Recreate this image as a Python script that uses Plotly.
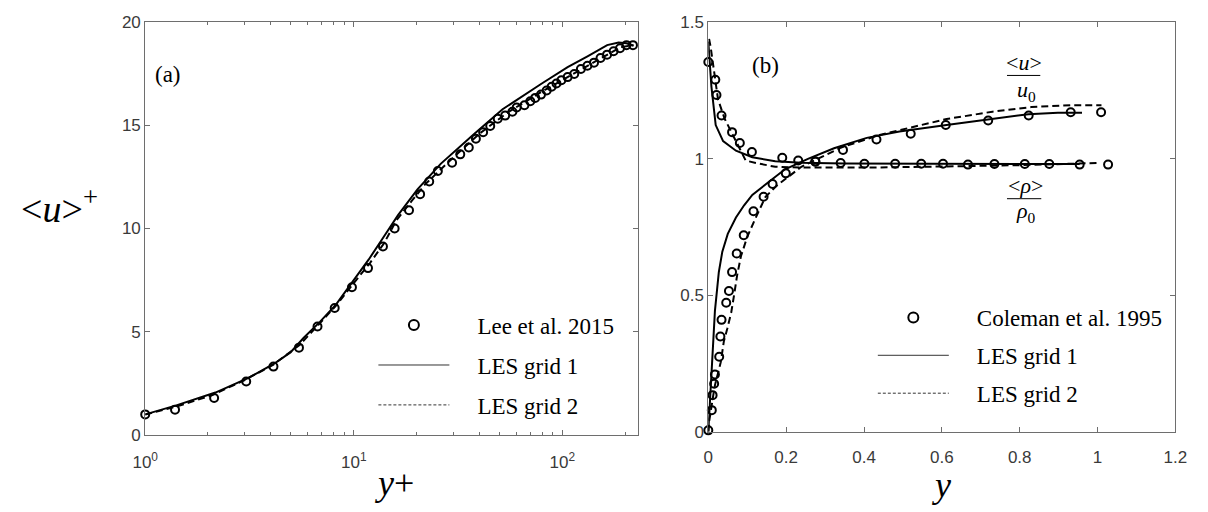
import plotly.graph_objects as go

# ---------------- data: panel (a) ----------------
yp_lee = [1.0, 1.39, 2.14, 3.05, 4.12, 5.46, 6.7, 8.1, 9.8, 11.7, 13.8, 15.7, 18.4, 20.8, 23.0,
          25.3, 29.6, 32.4, 35.6, 38.5, 41.7, 45.1, 49.0, 53.2, 57.6, 60.4, 65.8, 70.2, 74.1,
          79.0, 84.1, 88.8, 93.7, 98.9, 106, 114, 122.7, 131.9, 141.8, 152.4, 163.8, 176, 189,
          203, 218, 231]
u_lee = [0.98, 1.21, 1.78, 2.58, 3.30, 4.22, 5.25, 6.14, 7.15, 8.08, 9.13, 10.0, 10.89, 11.67,
         12.28, 12.79, 13.19, 13.6, 13.93, 14.36, 14.67, 14.98, 15.33, 15.48, 15.67, 15.87,
         15.98, 16.18, 16.34, 16.5, 16.7, 16.88, 17.04, 17.2, 17.35, 17.5, 17.74, 17.9, 18.05,
         18.28, 18.44, 18.6, 18.75, 18.9, 18.9, 18.83]

yp_g1 = [1.0, 1.41, 2.17, 3.11, 4.15, 4.97, 5.74, 6.88, 8.23, 9.85, 11.8, 13.9, 16.3, 20.2,
         26.1, 37.4, 51.7, 79.7, 106, 132, 164, 186, 203, 218]
u_g1 = [0.98, 1.42, 2.04, 2.74, 3.44, 3.99, 4.69, 5.47, 6.32, 7.42, 8.5, 9.59, 10.65, 11.9,
        13.14, 14.55, 15.79, 17.04, 17.83, 18.36, 18.9, 19.03, 18.99, 18.88]

yp_g2 = [1.0, 1.4, 2.1, 3.0, 4.1, 5.5, 6.8, 8.2, 10, 12, 14, 16, 19, 22, 26, 30, 40, 55, 80,
         110, 150, 190, 220]
u_g2 = [0.97, 1.35, 1.92, 2.65, 3.38, 4.35, 5.35, 6.25, 7.35, 8.35, 9.3, 10.4, 11.35, 12.15,
        12.85, 13.45, 14.6, 15.65, 16.65, 17.45, 18.2, 18.8, 18.9]

# ---------------- data: panel (b) ----------------
y_cu = [0.0, 0.009, 0.011, 0.015, 0.017, 0.028, 0.031, 0.034, 0.046, 0.053, 0.061, 0.073,
        0.091, 0.116, 0.142, 0.165, 0.199, 0.275, 0.346, 0.432, 0.52, 0.61, 0.719, 0.823,
        0.931, 1.009]
u_cu = [0.005, 0.079, 0.134, 0.176, 0.21, 0.275, 0.349, 0.41, 0.473, 0.516, 0.585, 0.653,
        0.72, 0.808, 0.861, 0.908, 0.947, 0.99, 1.033, 1.071, 1.092, 1.124, 1.141, 1.159,
        1.171, 1.171]
y_cr = [0.0, 0.018, 0.021, 0.034, 0.061, 0.081, 0.112, 0.19, 0.231, 0.275, 0.34, 0.401, 0.48,
        0.547, 0.603, 0.667, 0.735, 0.813, 0.876, 0.954, 1.027]
r_cr = [1.355, 1.29, 1.234, 1.159, 1.098, 1.058, 1.025, 1.004, 0.994, 0.99, 0.985, 0.982,
        0.982, 0.982, 0.982, 0.979, 0.981, 0.981, 0.981, 0.979, 0.979]

y_g1u = [0, 0.008, 0.017, 0.027, 0.036, 0.05, 0.071, 0.092, 0.113, 0.155, 0.197, 0.256,
         0.323, 0.407, 0.491, 0.612, 0.73, 0.822, 0.898, 0.96]
u_g1u = [0, 0.208, 0.443, 0.585, 0.66, 0.725, 0.785, 0.83, 0.868, 0.915, 0.962, 1.0, 1.039,
         1.077, 1.1, 1.124, 1.146, 1.164, 1.169, 1.169]
y_g2u = [0, 0.003, 0.0126, 0.017, 0.032, 0.04, 0.049, 0.059, 0.067, 0.074, 0.084, 0.1, 0.122,
         0.147, 0.176, 0.239, 0.34, 0.44, 0.612, 0.73, 0.83, 0.931, 1.01]
u_g2u = [0, 0.045, 0.132, 0.17, 0.255, 0.332, 0.379, 0.438, 0.508, 0.573, 0.644, 0.714,
         0.785, 0.861, 0.902, 0.971, 1.041, 1.088, 1.146, 1.173, 1.19, 1.197, 1.197]
y_g1r = [0, 0.008, 0.019, 0.038, 0.071, 0.113, 0.172, 0.239, 0.35, 0.5, 0.7, 0.954]
r_g1r = [1.43, 1.265, 1.124, 1.065, 1.03, 1.006, 0.991, 0.986, 0.983, 0.982, 0.982, 0.981]
y_g2r = [0.002, 0.006, 0.025, 0.042, 0.071, 0.096, 0.122, 0.172, 0.25, 0.4, 0.6, 0.8, 1.0]
r_g2r = [1.44, 1.41, 1.218, 1.147, 1.065, 0.994, 0.985, 0.971, 0.968, 0.968, 0.972, 0.977,
         0.985]

W, H = 1208, 512
SERIF = "Liberation Serif"
SANS = "Liberation Sans"
AX = "#6e6e6e"
TXT = "#3a3a3a"

fig = go.Figure()
mk = dict(symbol="circle-open", size=8, color="black", line=dict(width=2, color="black"))
solid = dict(color="black", width=2)
dashed = dict(color="black", width=2, dash="7px,4px")

# panel (a)
fig.add_trace(go.Scatter(x=yp_g1, y=u_g1, mode="lines", line=solid, showlegend=False,
                         xaxis="x", yaxis="y"))
fig.add_trace(go.Scatter(x=yp_g2, y=u_g2, mode="lines", line=dashed, showlegend=False,
                         xaxis="x", yaxis="y"))
fig.add_trace(go.Scatter(x=yp_lee, y=u_lee, mode="markers", marker=mk, showlegend=False,
                         cliponaxis=False, xaxis="x", yaxis="y"))
# panel (b)
for xs, ys in [(y_g1u, u_g1u), (y_g1r, r_g1r)]:
    fig.add_trace(go.Scatter(x=xs, y=ys, mode="lines", line=solid, showlegend=False,
                             xaxis="x2", yaxis="y2"))
for xs, ys in [(y_g2u, u_g2u), (y_g2r, r_g2r)]:
    fig.add_trace(go.Scatter(x=xs, y=ys, mode="lines", line=dashed, showlegend=False,
                             xaxis="x2", yaxis="y2"))
for xs, ys in [(y_cu, u_cu), (y_cr, r_cr)]:
    fig.add_trace(go.Scatter(x=xs, y=ys, mode="markers", marker=mk, showlegend=False,
                             cliponaxis=False, xaxis="x2", yaxis="y2"))

# legend-only entries
sp = "&nbsp;" * 4
lmk = dict(symbol="circle-open", size=10, color="black", line=dict(width=2, color="black"))
for lg, ax, first in [("legend", ("x", "y"), "Lee et al. 2015"),
                      ("legend2", ("x2", "y2"), "Coleman et al. 1995")]:
    fig.add_trace(go.Scatter(x=[None], y=[None], mode="markers", marker=lmk, name=sp + first,
                             legend=lg, legendgroup=lg + "a", xaxis=ax[0], yaxis=ax[1]))
    fig.add_trace(go.Scatter(x=[None], y=[None], mode="lines",
                             line=dict(color="#333", width=1), name=sp + "LES grid 1",
                             legend=lg, legendgroup=lg + "b", xaxis=ax[0], yaxis=ax[1]))
    fig.add_trace(go.Scatter(x=[None], y=[None], mode="lines",
                             line=dict(color="#333", width=1, dash="3px,2px"),
                             name=sp + "LES grid 2",
                             legend=lg, legendgroup=lg + "c", xaxis=ax[0], yaxis=ax[1]))

def px(x):
    return x / W

def py(y):
    return 1 - y / H

axis_common = dict(showline=True, linecolor=AX, linewidth=1, mirror="ticks", ticks="inside",
                   ticklen=5, tickcolor=AX, showgrid=False, zeroline=False,
                   tickfont=dict(family=SANS, size=17, color=TXT))

leg_common = dict(font=dict(family=SERIF, size=23, color="black"), bgcolor="rgba(0,0,0,0)",
                  borderwidth=0, itemwidth=71, xanchor="left",
                  yanchor="top", itemsizing="trace")

fig.update_layout(
    width=W, height=H, margin=dict(l=0, r=0, t=0, b=0),
    paper_bgcolor="white", plot_bgcolor="white",
    xaxis=dict(axis_common, type="log", domain=[px(135), px(638)], range=[0, 2.3617],
               tickvals=[1, 10, 100],
               ticktext=["10<sup>0</sup>", "10<sup>1</sup>", "10<sup>2</sup>"],
               ticklabelstandoff=12,
               minor=dict(ticks="inside", ticklen=3, tickcolor=AX,
                          tickvals=[2, 3, 4, 5, 6, 7, 8, 9, 20, 30, 40, 50, 60, 70, 80, 90,
                                    200]),
               anchor="y"),
    yaxis=dict(axis_common, domain=[py(442), py(14)], range=[0, 20],
               tickvals=[0, 5, 10, 15, 20], anchor="x"),
    xaxis2=dict(axis_common, domain=[px(710), px(1187)], range=[0, 1.2],
                tickvals=[0, 0.2, 0.4, 0.6, 0.8, 1, 1.2], ticklabelstandoff=10,
                anchor="y2"),
    yaxis2=dict(axis_common, domain=[py(439), py(14)], range=[0, 1.5],
                tickvals=[0, 0.5, 1, 1.5], anchor="x2"),
    legend=dict(leg_common, x=px(368), y=py(306), tracegroupgap=7),
    legend2=dict(leg_common, x=px(878), y=py(298), tracegroupgap=5),
)

ann = []
def txt(x, y, s, size, xanchor="center"):
    ann.append(dict(x=px(x), y=py(y), xref="paper", yref="paper", text=s, showarrow=False,
                    xanchor=xanchor, yanchor="middle",
                    font=dict(family=SERIF, size=size, color="black")))

txt(158, 68, "(a)", 23)
txt(768, 59, "(b)", 23)
txt(47, 205, "&lt;<i>u</i>&gt;<sup>+</sup>", 38)
txt(390, 492, "<i>y</i>+", 36)
txt(948, 494, "<i>y</i>", 36)
txt(1032, 56, "&lt;<i>u</i>&gt;", 22)
txt(1035, 85, "<i>u</i><sub>0</sub>", 22)
txt(1034, 183, "&lt;<i>ρ</i>&gt;", 22)
txt(1034, 211, "<i>ρ</i><sub>0</sub>", 22)
fig.update_layout(annotations=ann)

fig.add_shape(type="line", xref="paper", yref="paper", x0=px(1015), x1=px(1049),
              y0=py(69), y1=py(69), line=dict(color="black", width=1))
fig.add_shape(type="line", xref="paper", yref="paper", x0=px(1015), x1=px(1050),
              y0=py(197), y1=py(197), line=dict(color="black", width=1))

fig.write_html("out.html")
